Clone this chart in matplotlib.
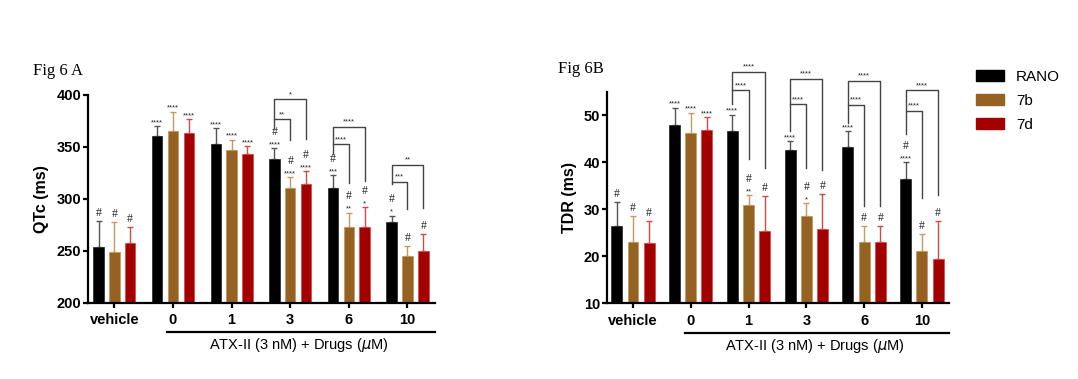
import matplotlib
matplotlib.use('Agg')
import matplotlib.pyplot as plt
import matplotlib.patches as mpatches
import numpy as np

plt.rcParams['font.family'] = ['Liberation Sans', 'DejaVu Sans']

# categories
groups = ['vehicle', '0', '1', '3', '6', '10']
series = ['RANO', '7b', '7d']

# Fig 6A - QTc (ms)
qtc_rano = [254, 361, 353, 338, 311, 278]
qtc_rano_err = [25, 9, 15, 11, 12, 6]
qtc_7b = [249, 365, 347, 311, 273, 245]
qtc_7b_err = [29, 19, 10, 10, 14, 10]
qtc_7d = [258, 363, 343, 314, 273, 250]
qtc_7d_err = [15, 14, 8, 13, 19, 16]
qtc_rano_sig = ['#', '****', '****', '# ****', '# ***', '# *']
qtc_7b_sig = ['#', '****', '****', '# ****', '# **', '#']
qtc_7d_sig = ['#', '****', '****', '# ****', '# *', '#']

# brackets for 6A (group index, target series, top, left leg end, right leg end, label)
qtc_br_group = [3, 3, 4, 4, 5, 5]
qtc_br_to = [1, 2, 1, 2, 1, 2]
qtc_br_top = [376.6, 395.8, 352.6, 369.6, 316.8, 332.8]
qtc_br_left = [367, 376.6, 343, 352.6, 314, 316.8]
qtc_br_right = [356.8, 357.4, 315.7, 317.6, 290, 291.7]
qtc_br_label = ['**', '*', '****', '****', '***', '**']

# Fig 6B - TDR (ms)
tdr_rano = [26.5, 47.9, 46.6, 42.6, 43.2, 36.4]
tdr_rano_err = [5.0, 3.7, 3.5, 1.9, 3.4, 3.6]
tdr_7b = [23.1, 46.3, 31.0, 28.5, 23.1, 21.1]
tdr_7b_err = [5.5, 4.2, 2.0, 2.8, 3.4, 3.6]
tdr_7d = [22.8, 46.9, 25.3, 25.9, 23.1, 19.4]
tdr_7d_err = [4.7, 2.7, 7.5, 7.3, 3.4, 8.1]
tdr_rano_sig = ['#', '****', '****', '****', '****', '# ****']
tdr_7b_sig = ['#', '****', '# **', '# *', '#', '#']
tdr_7d_sig = ['#', '****', '#', '#', '#', '#']

tdr_br_group = [2, 2, 3, 3, 4, 4, 5, 5]
tdr_br_to = [1, 2, 1, 2, 1, 2, 1, 2]
tdr_br_top = [55.3, 59.25, 52.3, 57.8, 52.2, 57.3, 50.9, 55.3]
tdr_br_left = [52.3, 55.3, 46.6, 52.3, 48.4, 52.2, 45.9, 50.9]
tdr_br_right = [40.7, 38.8, 38.8, 38.4, 30.6, 30.6, 32.3, 33.0]
tdr_br_label = ['****'] * 8

colors = ['#000000', '#956221', '#a30000']
edge_colors = ['#333333', '#c49a62', '#d85050']
err_colors = ['#555555', '#c49a62', '#d64848']

W, H = 1078, 379
fig = plt.figure(figsize=(W / 100, H / 100), dpi=100)


def draw_panel(ax, vals, errs, sigs, br, ylim, yticks, ylabel, offset, width):
    x = np.arange(len(groups))
    for i in range(3):
        xs = x + (i - 1) * offset
        ax.bar(xs, vals[i], width=width, color=colors[i], edgecolor=edge_colors[i],
               linewidth=0.6, zorder=2)
        ax.errorbar(xs, vals[i], yerr=[np.zeros(len(groups)), errs[i]], fmt='none',
                    ecolor=err_colors[i], elinewidth=1.0, capsize=2.5, capthick=1.0, zorder=1)
        for j in range(len(groups)):
            top = vals[i][j] + errs[i][j]
            parts = sigs[i][j].split()
            off = 1.5
            for p in reversed(parts):
                if p == '#':
                    ax.annotate('#', (xs[j], top), xytext=(0, off), textcoords='offset points',
                                ha='center', va='bottom', fontsize=8.5, color='#222222',
                                family='Liberation Serif', annotation_clip=False)
                    off += 8
                else:
                    ax.annotate(p, (xs[j], top), xytext=(0, off - 1.5), textcoords='offset points',
                                ha='center', va='bottom', fontsize=5.5, color='#222222',
                                annotation_clip=False)
                    off += 6
    # comparison brackets
    g, to, tops, lefts, rights, labels = br
    for k in range(len(g)):
        x0 = g[k] - offset
        x1 = g[k] + (to[k] - 1) * offset
        ax.plot([x0, x0, x1, x1], [lefts[k], tops[k], tops[k], rights[k]],
                color='#444444', lw=1.0, clip_on=False, zorder=3)
        ax.annotate(labels[k], ((x0 + x1) / 2, tops[k]), xytext=(0, 1),
                    textcoords='offset points', ha='center', va='bottom',
                    fontsize=5.5, color='#222222', annotation_clip=False)

    ax.set_xlim(-0.45, 5.47)
    ax.set_ylim(*ylim)
    ax.set_yticks(yticks)
    ax.set_xticks(x)
    ax.set_xticklabels(groups, fontweight='bold', fontsize=10.5)
    for t in ax.get_yticklabels():
        t.set_fontweight('bold')
        t.set_fontsize(10.5)
    ax.set_ylabel(ylabel, fontweight='bold', fontsize=11.5, labelpad=5)
    for s in ['top', 'right']:
        ax.spines[s].set_visible(False)
    for s in ['left', 'bottom']:
        ax.spines[s].set_linewidth(1.6)
    ax.tick_params(axis='both', length=3.5, width=1.6, pad=1.5)
    ax.tick_params(axis='x', pad=4)
    # group underline and label
    ax.plot([0.9, 5.47], [-0.14, -0.14], color='black', lw=1.6,
            transform=ax.get_xaxis_transform(), clip_on=False)
    ax.text(3.15, -0.2, r'ATX-II (3 nM) + Drugs ($\mu$M)', ha='center', va='center',
            fontsize=10.5, transform=ax.get_xaxis_transform())


axA = fig.add_axes([88 / W, 1 - 303 / H, (435 - 88) / W, (303 - 95) / H])
draw_panel(axA, [qtc_rano, qtc_7b, qtc_7d], [qtc_rano_err, qtc_7b_err, qtc_7d_err],
           [qtc_rano_sig, qtc_7b_sig, qtc_7d_sig],
           (qtc_br_group, qtc_br_to, qtc_br_top, qtc_br_left, qtc_br_right, qtc_br_label),
           (200, 400), [200, 250, 300, 350, 400], 'QTc (ms)', 0.27, 0.18)

axB = fig.add_axes([607 / W, 1 - 303.3 / H, (949 - 607) / W, (303.3 - 91.7) / H])
draw_panel(axB, [tdr_rano, tdr_7b, tdr_7d], [tdr_rano_err, tdr_7b_err, tdr_7d_err],
           [tdr_rano_sig, tdr_7b_sig, tdr_7d_sig],
           (tdr_br_group, tdr_br_to, tdr_br_top, tdr_br_left, tdr_br_right, tdr_br_label),
           (10, 55), [10, 20, 30, 40, 50], 'TDR (ms)', 0.28, 0.19)

fig.text(33 / W, 1 - 71 / H, 'Fig 6 A', family='Liberation Serif', fontsize=12, va='center')
fig.text(558 / W, 1 - 69 / H, 'Fig 6B', family='Liberation Serif', fontsize=12, va='center')

handles = [mpatches.Patch(facecolor=colors[i], edgecolor=colors[i], label=series[i]) for i in range(3)]
fig.legend(handles=handles, loc='upper left', bbox_to_anchor=(970 / W, 1 - 64 / H),
           frameon=False, fontsize=11, handlelength=1.8, handleheight=0.7,
           labelspacing=0.65, handletextpad=0.8, borderaxespad=0)

fig.savefig('out.png', dpi=100)
